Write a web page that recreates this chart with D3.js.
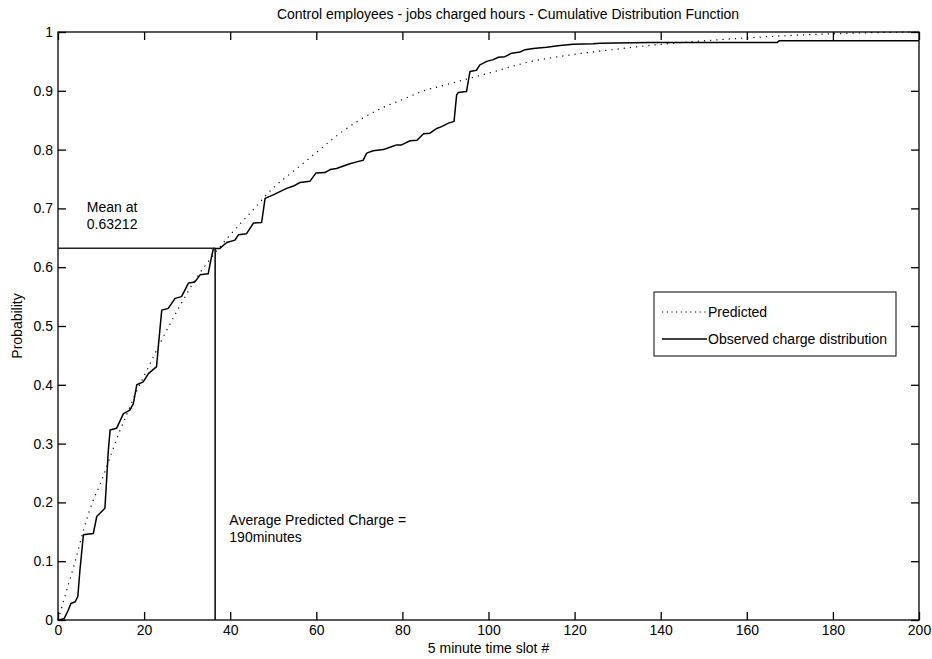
<!DOCTYPE html>
<html>
<head>
<meta charset="utf-8">
<script src="https://cdn.jsdelivr.net/npm/d3@7"></script>
<style>
  body { margin: 0; background: #fff; }
  text { font-family: "Liberation Sans", Arial, sans-serif; fill: #000; }
</style>
</head>
<body>
<div id="plot"></div>
<script>
// values
const predX = [0, 2, 4, 6, 8, 10, 12, 14, 16, 18, 20, 24, 28, 32, 36, 40, 45, 50, 55, 60, 65, 70, 75, 80,
    85, 90, 95, 100, 110, 120, 130, 140, 150, 160, 170, 180, 190, 200];
const predP = [0, 0.05, 0.10, 0.155, 0.20, 0.235, 0.275, 0.315, 0.35, 0.385, 0.415, 0.475, 0.53, 0.58, 0.62,
    0.655, 0.695, 0.735, 0.765, 0.795, 0.825, 0.85, 0.87, 0.885, 0.90, 0.91, 0.92, 0.93, 0.95, 0.962, 0.971,
    0.979, 0.985, 0.99, 0.994, 0.997, 0.999, 1.0];

const obsX = [0, 1.4, 2.4, 3.0, 4.0, 4.6, 5.1, 5.9, 8.2, 9.0, 10.5, 10.9, 11.7, 12.1, 13.6, 15.2, 16.7, 17.5,
    18.3, 19.8, 21.0, 22.9, 23.3, 24.1, 25.6, 27.2, 28.7, 30.3, 31.8, 33.0, 34.9, 35.5, 36.1, 37.6, 39.2,
    41.1, 41.9, 43.8, 45.4, 47.3, 48.1, 50.0, 53.1, 54.7, 56.2, 58.5, 59.9, 62.0, 63.2, 64.7, 66.3, 67.8,
    69.8, 70.9, 71.7, 73.2, 75.6, 77.1, 78.7, 79.8, 81.8, 83.4, 84.9, 86.4, 88.0, 89.1, 90.7, 92.0, 92.6,
    93.0, 94.9, 95.7, 97.2, 98.0, 99.6, 101.1, 102.3, 103.8, 105.4, 107.3, 108.5, 110.4, 113.5, 116.6,
    119.7, 124.3, 125.9, 137.5, 167, 167.5, 200];
const obsP = [0, 0.002, 0.017, 0.028, 0.031, 0.040, 0.085, 0.145, 0.147, 0.176, 0.187, 0.19, 0.289, 0.323,
    0.326, 0.351, 0.357, 0.368, 0.400, 0.405, 0.419, 0.431, 0.465, 0.527, 0.530, 0.547, 0.550, 0.573, 0.575,
    0.587, 0.589, 0.612, 0.632, 0.632, 0.642, 0.646, 0.655, 0.657, 0.675, 0.676, 0.717, 0.723, 0.734, 0.738,
    0.744, 0.746, 0.760, 0.761, 0.766, 0.768, 0.772, 0.776, 0.780, 0.782, 0.794, 0.798, 0.800, 0.804, 0.808,
    0.808, 0.815, 0.816, 0.827, 0.828, 0.836, 0.839, 0.845, 0.848, 0.893, 0.897, 0.899, 0.933, 0.935, 0.944,
    0.950, 0.953, 0.957, 0.958, 0.964, 0.966, 0.970, 0.972, 0.974, 0.977, 0.979, 0.980, 0.981, 0.982, 0.982,
    0.985, 0.985];

const meanX = 36.5;
const meanP = 0.63212;

const xTicks = [0, 20, 40, 60, 80, 100, 120, 140, 160, 180, 200];
const yTicks = [0, 0.1, 0.2, 0.3, 0.4, 0.5, 0.6, 0.7, 0.8, 0.9, 1];

const seriesNames = ['Predicted', 'Observed charge distribution'];

const W = 932, H = 659;
const margin = {t: 32, r: 13, b: 39, l: 58};
const width = W - margin.l - margin.r;
const height = H - margin.t - margin.b;
const fontSize = 14;

const svg = d3.select('#plot')
    .append('svg')
    .attr('width', W)
    .attr('height', H);

const g = svg.append('g')
    .attr('transform', `translate(${margin.l}, ${margin.t})`);

const x = d3.scaleLinear().domain([0, 200]).range([0, width]);
const y = d3.scaleLinear().domain([0, 1]).range([height, 0]);

const fmt = d => (d === 0 || d === 1) ? String(d) : d3.format('.1f')(d);

// axes, MATLAB style: inward ticks on all four sides
const tick = 8;
g.append('g')
    .attr('transform', `translate(0, ${height})`)
    .call(d3.axisBottom(x).tickValues(xTicks).tickSize(-tick).tickPadding(5).tickFormat(d3.format('d')))
    .call(a => a.select('.domain').remove());
g.append('g')
    .call(d3.axisTop(x).tickValues(xTicks).tickSize(-tick).tickFormat(''))
    .call(a => a.select('.domain').remove());
g.append('g')
    .call(d3.axisLeft(y).tickValues(yTicks).tickSize(-tick).tickPadding(5).tickFormat(fmt))
    .call(a => a.select('.domain').remove());
g.append('g')
    .attr('transform', `translate(${width}, 0)`)
    .call(d3.axisRight(y).tickValues(yTicks).tickSize(-tick).tickFormat(''))
    .call(a => a.select('.domain').remove());

g.selectAll('.tick line').attr('stroke', '#000').attr('stroke-width', 1.3);
g.selectAll('.tick text').style('font-size', `${fontSize}px`)
    .style('font-family', '"Liberation Sans", Arial, sans-serif');

g.append('rect')
    .attr('width', width)
    .attr('height', height)
    .attr('fill', 'none')
    .attr('stroke', '#000')
    .attr('stroke-width', 1.3);

// curves
const line = d3.line().x(d => x(d[0])).y(d => y(d[1]));

g.append('path')
    .datum(predX.map((v, i) => [v, predP[i]]))
    .attr('d', d3.line().x(d => x(d[0])).y(d => y(d[1])).curve(d3.curveMonotoneX))
    .attr('fill', 'none')
    .attr('stroke', '#000')
    .attr('stroke-width', 1.2)
    .attr('stroke-dasharray', '1.2,5');

g.append('path')
    .datum(obsX.map((v, i) => [v, obsP[i]]))
    .attr('d', line)
    .attr('fill', 'none')
    .attr('stroke', '#000')
    .attr('stroke-width', 1.5)
    .attr('stroke-linejoin', 'round');

// mean markers
g.append('line')
    .attr('x1', x(0)).attr('x2', x(meanX))
    .attr('y1', y(meanP)).attr('y2', y(meanP))
    .attr('stroke', '#222').attr('stroke-width', 1.5);
g.append('line')
    .attr('x1', x(meanX)).attr('x2', x(meanX))
    .attr('y1', y(0)).attr('y2', y(meanP))
    .attr('stroke', '#000').attr('stroke-width', 1.5);

// annotations
const note = (tx, ty, lines) => {
    lines.forEach((s, i) => {
        g.append('text')
            .attr('x', x(tx))
            .attr('y', y(ty) + i * 17.5)
            .style('font-size', `${fontSize}px`)
            .text(s);
    });
};
note(6.7, 0.694, ['Mean at', '0.63212']);
note(39.8, 0.162, ['Average Predicted Charge =', '190minutes']);

// legend
const lg = svg.append('g').attr('transform', 'translate(654, 292)');
lg.append('rect')
    .attr('width', 242)
    .attr('height', 64)
    .attr('fill', '#fff')
    .attr('stroke', '#000')
    .attr('stroke-width', 1);
seriesNames.forEach((s, i) => {
    const ly = 20 + i * 27;
    lg.append('line')
        .attr('x1', 8).attr('x2', 53)
        .attr('y1', ly).attr('y2', ly)
        .attr('stroke', '#000')
        .attr('stroke-width', i === 0 ? 1.2 : 1.3)
        .attr('stroke-dasharray', i === 0 ? '1.2,3.5' : null);
    lg.append('text')
        .attr('x', 54)
        .attr('y', ly + 5)
        .style('font-size', `${fontSize}px`)
        .text(s);
});

// titles
svg.append('text')
    .attr('x', 508)
    .attr('y', 19)
    .attr('text-anchor', 'middle')
    .style('font-size', `${fontSize}px`)
    .text('Control employees - jobs charged hours - Cumulative Distribution Function');

svg.append('text')
    .attr('x', margin.l + width / 2)
    .attr('y', 653)
    .attr('text-anchor', 'middle')
    .style('font-size', `${fontSize}px`)
    .text('5 minute time slot #');

svg.append('text')
    .attr('transform', `translate(22, ${margin.t + height / 2}) rotate(-90)`)
    .attr('text-anchor', 'middle')
    .style('font-size', `${fontSize}px`)
    .text('Probability');
</script>
</body>
</html>
